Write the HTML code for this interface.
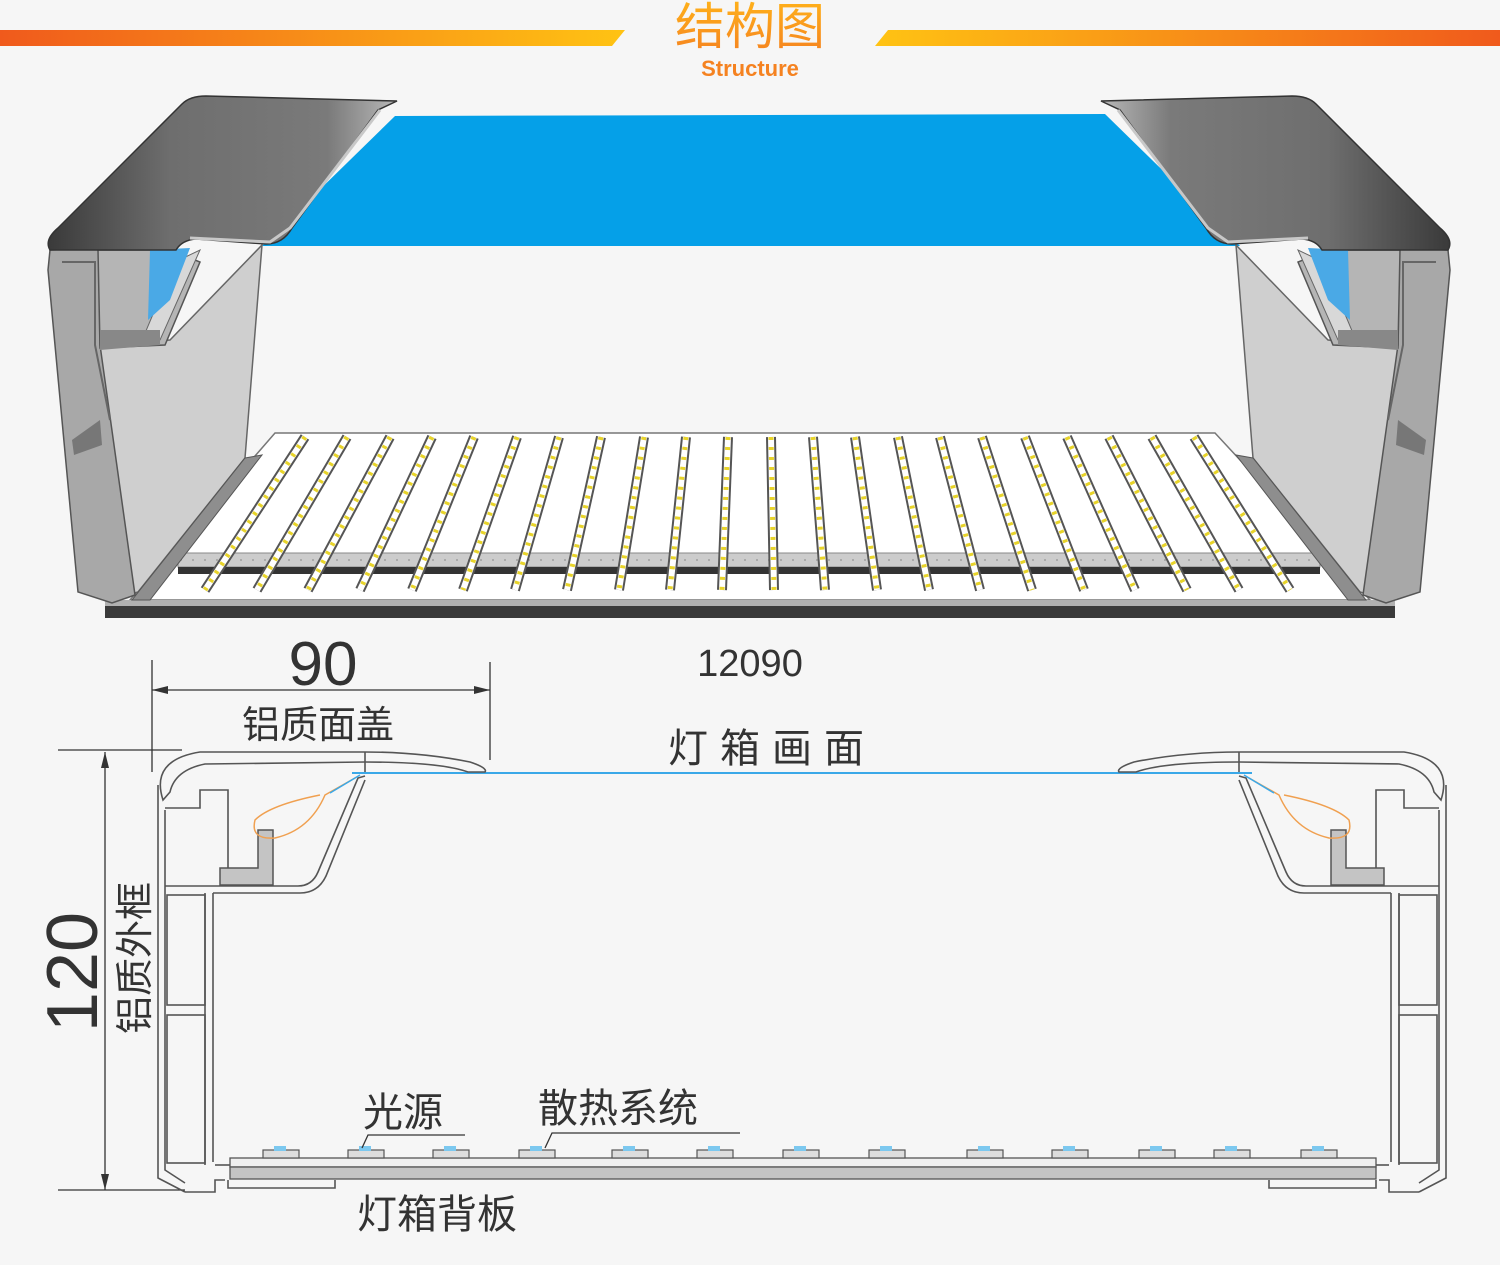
<!DOCTYPE html>
<html><head><meta charset="utf-8"><style>
html,body{margin:0;padding:0;background:#f6f6f6;}
svg{display:block}
text{font-family:"Liberation Sans","Noto Sans CJK SC",sans-serif}
</style></head><body>
<svg width="1500" height="1265" viewBox="0 0 1500 1265" xmlns="http://www.w3.org/2000/svg">
<defs>
<linearGradient id="gl" x1="0" x2="1" y1="0" y2="0"><stop offset="0" stop-color="#f05a1c"/><stop offset="1" stop-color="#ffc313"/></linearGradient>
<linearGradient id="gr" x1="0" x2="1" y1="0" y2="0"><stop offset="0" stop-color="#ffc313"/><stop offset="1" stop-color="#f05a1c"/></linearGradient>
<linearGradient id="tt" x1="0" x2="0" y1="0" y2="1"><stop offset="0" stop-color="#ffb21a"/><stop offset="1" stop-color="#f58220"/></linearGradient>
<linearGradient id="cap" x1="0" x2="1" y1="0" y2="0"><stop offset="0" stop-color="#3a3a3a"/><stop offset="0.35" stop-color="#6e6e6e"/><stop offset="0.8" stop-color="#7a7a7a"/><stop offset="1" stop-color="#b8b8b8"/></linearGradient>
<g id="side3d">
  <polygon points="95,345 170,340 262,245 245,458 138,592 118,598" fill="#cfcfcf" stroke="#666" stroke-width="1.5"/>
  <path d="M50,250 L100,248 L100,345 L135,595 L112,603 L78,592 L48,270 Z" fill="#a8a8a8" stroke="#555" stroke-width="1.5"/>
  <polyline points="62,262 95,262 95,345 110,420" fill="none" stroke="#666" stroke-width="2"/>
  <polygon points="72,440 100,420 102,445 74,455" fill="#777"/>
  <polygon points="98,250 170,250 200,262 165,345 100,348" fill="#b5b5b5" stroke="#555" stroke-width="1.5"/>
  <polygon points="175,262 200,250 160,340 140,345" fill="#d8d8d8" stroke="#666"/>
  <path d="M150,250 L190,248 L170,300 L148,320 Z" fill="#4aa9e6"/>
  <polygon points="100,330 160,330 160,345 100,350" fill="#888"/>
  <polygon points="245,458 262,455 150,600 132,600" fill="#8e8e8e" stroke="#555"/>
  <path d="M50,250 Q44,240 58,228 L182,104 Q190,96 206,96 L397,101 L378,110 L292,228 Q283,244 266,244 L196,239 Q182,240 176,250 Z" fill="url(#cap)" stroke="#333" stroke-width="1.5"/>
  <path d="M190,238 L270,242 L290,228 L380,110" fill="none" stroke="#c8c8c8" stroke-width="3"/>
</g>
<g id="strip">
</g>
</defs>

<polygon points="0,30 625,30 612,46 0,46" fill="url(#gl)"/>
<polygon points="888,30 1500,30 1500,46 875,46" fill="url(#gr)"/>
<text x="750" y="44" font-size="50" fill="url(#tt)" text-anchor="middle">结构图</text>
<text x="750" y="76" font-size="22" font-weight="bold" fill="#f58220" text-anchor="middle">Structure</text>

<polygon points="395,116 1105,114 1240,246 262,246" fill="#05a0e8"/>

<polygon points="275,433 1215,433 1370,600 130,600" fill="#fff" stroke="#777" stroke-width="1.5"/>
<rect x="105" y="600" width="1290" height="6" fill="#b0b0b0"/>
<rect x="105" y="606" width="1290" height="12" fill="#3a3a3a"/>
<rect x="178" y="553" width="1142" height="14" fill="#ccc" stroke="#888"/>
<line x1="180" y1="560" x2="1318" y2="560" stroke="#888" stroke-dasharray="2 10"/>
<rect x="178" y="567" width="1142" height="7" fill="#333"/>

<g>
<g stroke="#555" stroke-width="10">
<line x1="305" y1="437" x2="205" y2="590"/><line x1="347" y1="437" x2="257" y2="590"/><line x1="390" y1="437" x2="308" y2="590"/><line x1="432" y1="437" x2="360" y2="590"/><line x1="474" y1="437" x2="412" y2="590"/><line x1="517" y1="437" x2="463" y2="590"/><line x1="559" y1="437" x2="515" y2="590"/><line x1="601" y1="437" x2="567" y2="590"/><line x1="644" y1="437" x2="619" y2="590"/><line x1="686" y1="437" x2="670" y2="590"/><line x1="728" y1="437" x2="722" y2="590"/><line x1="771" y1="437" x2="774" y2="590"/><line x1="813" y1="437" x2="825" y2="590"/><line x1="855" y1="437" x2="877" y2="590"/><line x1="898" y1="437" x2="929" y2="590"/><line x1="940" y1="437" x2="980" y2="590"/><line x1="982" y1="437" x2="1032" y2="590"/><line x1="1025" y1="437" x2="1084" y2="590"/><line x1="1067" y1="437" x2="1135" y2="590"/><line x1="1109" y1="437" x2="1187" y2="590"/><line x1="1152" y1="437" x2="1239" y2="590"/><line x1="1194" y1="437" x2="1290" y2="590"/>
</g>
<g stroke="#fff" stroke-width="6">
<line x1="305" y1="437" x2="205" y2="590"/><line x1="347" y1="437" x2="257" y2="590"/><line x1="390" y1="437" x2="308" y2="590"/><line x1="432" y1="437" x2="360" y2="590"/><line x1="474" y1="437" x2="412" y2="590"/><line x1="517" y1="437" x2="463" y2="590"/><line x1="559" y1="437" x2="515" y2="590"/><line x1="601" y1="437" x2="567" y2="590"/><line x1="644" y1="437" x2="619" y2="590"/><line x1="686" y1="437" x2="670" y2="590"/><line x1="728" y1="437" x2="722" y2="590"/><line x1="771" y1="437" x2="774" y2="590"/><line x1="813" y1="437" x2="825" y2="590"/><line x1="855" y1="437" x2="877" y2="590"/><line x1="898" y1="437" x2="929" y2="590"/><line x1="940" y1="437" x2="980" y2="590"/><line x1="982" y1="437" x2="1032" y2="590"/><line x1="1025" y1="437" x2="1084" y2="590"/><line x1="1067" y1="437" x2="1135" y2="590"/><line x1="1109" y1="437" x2="1187" y2="590"/><line x1="1152" y1="437" x2="1239" y2="590"/><line x1="1194" y1="437" x2="1290" y2="590"/>
</g>
<g stroke="#e8d42a" stroke-width="5" stroke-dasharray="3 7">
<line x1="305" y1="437" x2="205" y2="590"/><line x1="347" y1="437" x2="257" y2="590"/><line x1="390" y1="437" x2="308" y2="590"/><line x1="432" y1="437" x2="360" y2="590"/><line x1="474" y1="437" x2="412" y2="590"/><line x1="517" y1="437" x2="463" y2="590"/><line x1="559" y1="437" x2="515" y2="590"/><line x1="601" y1="437" x2="567" y2="590"/><line x1="644" y1="437" x2="619" y2="590"/><line x1="686" y1="437" x2="670" y2="590"/><line x1="728" y1="437" x2="722" y2="590"/><line x1="771" y1="437" x2="774" y2="590"/><line x1="813" y1="437" x2="825" y2="590"/><line x1="855" y1="437" x2="877" y2="590"/><line x1="898" y1="437" x2="929" y2="590"/><line x1="940" y1="437" x2="980" y2="590"/><line x1="982" y1="437" x2="1032" y2="590"/><line x1="1025" y1="437" x2="1084" y2="590"/><line x1="1067" y1="437" x2="1135" y2="590"/><line x1="1109" y1="437" x2="1187" y2="590"/><line x1="1152" y1="437" x2="1239" y2="590"/><line x1="1194" y1="437" x2="1290" y2="590"/>
</g>
</g>

<use href="#side3d"/>
<use href="#side3d" transform="translate(1498,0) scale(-1,1)"/>

<g stroke="#333" stroke-width="1.3" fill="none">
<line x1="152" y1="660" x2="152" y2="772"/>
<line x1="490" y1="662" x2="490" y2="760"/>
<line x1="152" y1="690" x2="490" y2="690"/>
<line x1="58" y1="750" x2="182" y2="750"/>
<line x1="58" y1="1190" x2="185" y2="1190"/>
<line x1="105" y1="752" x2="105" y2="1190"/>
</g>
<polygon points="152,690 168,686 168,694" fill="#333"/>
<polygon points="490,690 474,686 474,694" fill="#333"/>
<polygon points="105,752 101,768 109,768" fill="#333"/>
<polygon points="105,1190 101,1174 109,1174" fill="#333"/>
<text x="323" y="685" font-size="62" fill="#333" text-anchor="middle">90</text>
<text x="318" y="738" font-size="38" fill="#333" text-anchor="middle">铝质面盖</text>
<text x="750" y="676" font-size="38" fill="#333" text-anchor="middle">12090</text>
<text x="772" y="762" font-size="40" fill="#333" text-anchor="middle" letter-spacing="12">灯箱画面</text>
<text transform="translate(97,972) rotate(-90)" font-size="72" fill="#333" text-anchor="middle">120</text>
<text transform="translate(148,958) rotate(-90)" font-size="38" fill="#333" text-anchor="middle">铝质外框</text>

<line x1="352" y1="773" x2="1252" y2="773" stroke="#3aa8e8" stroke-width="2"/>

<g fill="none" stroke="#555" stroke-width="1.6">
  <path d="M163,800 Q150,760 200,752 L365,752 Q420,752 470,762 Q488,768 485,772 L468,772 Q440,762 365,762 L205,764 Q175,770 170,792 Z"/>
  <path d="M365,752 L365,772"/>
  <path d="M158,785 L158,1178 L185,1192"/>
  <path d="M165,810 L165,1170 L185,1183"/>
  <path d="M165,808 L200,808 L200,790 L228,790 L228,886"/>
  <path d="M213,893 L213,1162"/>
  <path d="M205,893 L205,1165"/>
  <rect x="167" y="895" width="38" height="110"/>
  <rect x="167" y="1015" width="38" height="148"/>
  <path d="M165,886 L298,886 Q312,886 318,872 L358,778 L365,776"/>
  <path d="M213,893 L300,893 Q318,893 326,876 L365,780"/>
  <path d="M185,1192 L215,1192 L215,1180 L225,1180"/>
  <path d="M228,1180 L228,1188 L335,1188 L335,1180"/>
  <path d="M215,1165 L230,1165"/>
</g>
<path d="M258,830 L273,830 L273,885 L220,885 L220,868 L258,868 Z" fill="#c4c4c4" stroke="#555" stroke-width="1.5"/>
<path d="M355,778 L325,795 Q310,830 275,838 Q250,840 255,820 Q270,805 320,795" fill="none" stroke="#f0a050" stroke-width="1.5"/>
<line x1="330" y1="793" x2="360" y2="775" stroke="#3aa8e8" stroke-width="1.5"/>

<g transform="translate(1604,0) scale(-1,1)">
<g fill="none" stroke="#555" stroke-width="1.6">
  <path d="M163,800 Q150,760 200,752 L365,752 Q420,752 470,762 Q488,768 485,772 L468,772 Q440,762 365,762 L205,764 Q175,770 170,792 Z"/>
  <path d="M365,752 L365,772"/>
  <path d="M158,785 L158,1178 L185,1192"/>
  <path d="M165,810 L165,1170 L185,1183"/>
  <path d="M165,808 L200,808 L200,790 L228,790 L228,886"/>
  <path d="M213,893 L213,1162"/>
  <path d="M205,893 L205,1165"/>
  <rect x="167" y="895" width="38" height="110"/>
  <rect x="167" y="1015" width="38" height="148"/>
  <path d="M165,886 L298,886 Q312,886 318,872 L358,778 L365,776"/>
  <path d="M213,893 L300,893 Q318,893 326,876 L365,780"/>
  <path d="M185,1192 L215,1192 L215,1180 L225,1180"/>
  <path d="M228,1180 L228,1188 L335,1188 L335,1180"/>
  <path d="M215,1165 L230,1165"/>
</g>
<path d="M258,830 L273,830 L273,885 L220,885 L220,868 L258,868 Z" fill="#c4c4c4" stroke="#555" stroke-width="1.5"/>
<path d="M355,778 L325,795 Q310,830 275,838 Q250,840 255,820 Q270,805 320,795" fill="none" stroke="#f0a050" stroke-width="1.5"/>
<line x1="330" y1="793" x2="360" y2="775" stroke="#3aa8e8" stroke-width="1.5"/>
</g>

<rect x="230" y="1158" width="1146" height="9" fill="#efefef" stroke="#555" stroke-width="1.3"/>
<rect x="230" y="1167" width="1146" height="12" fill="#c4c4c4" stroke="#555" stroke-width="1.3"/>
<g fill="#ddd" stroke="#555" stroke-width="1.2">
<rect x="263" y="1150" width="36" height="8"/><rect x="348" y="1150" width="36" height="8"/><rect x="433" y="1150" width="36" height="8"/><rect x="519" y="1150" width="36" height="8"/><rect x="612" y="1150" width="36" height="8"/><rect x="697" y="1150" width="36" height="8"/><rect x="783" y="1150" width="36" height="8"/><rect x="869" y="1150" width="36" height="8"/><rect x="967" y="1150" width="36" height="8"/><rect x="1052" y="1150" width="36" height="8"/><rect x="1139" y="1150" width="36" height="8"/><rect x="1214" y="1150" width="36" height="8"/><rect x="1301" y="1150" width="36" height="8"/>
</g>
<g fill="#7cc8ef">
<rect x="274" y="1146" width="12" height="5"/><rect x="359" y="1146" width="12" height="5"/><rect x="444" y="1146" width="12" height="5"/><rect x="530" y="1146" width="12" height="5"/><rect x="623" y="1146" width="12" height="5"/><rect x="708" y="1146" width="12" height="5"/><rect x="794" y="1146" width="12" height="5"/><rect x="880" y="1146" width="12" height="5"/><rect x="978" y="1146" width="12" height="5"/><rect x="1063" y="1146" width="12" height="5"/><rect x="1150" y="1146" width="12" height="5"/><rect x="1225" y="1146" width="12" height="5"/><rect x="1312" y="1146" width="12" height="5"/>
</g>
<text x="403" y="1126" font-size="40" fill="#333" text-anchor="middle">光源</text>
<polyline points="465,1135 368,1135 362,1148" fill="none" stroke="#333" stroke-width="1.3"/>
<text x="618" y="1122" font-size="40" fill="#333" text-anchor="middle">散热系统</text>
<polyline points="740,1133 552,1133 545,1148" fill="none" stroke="#333" stroke-width="1.3"/>
<text x="437" y="1228" font-size="40" fill="#333" text-anchor="middle">灯箱背板</text>
</svg>
</body></html>
